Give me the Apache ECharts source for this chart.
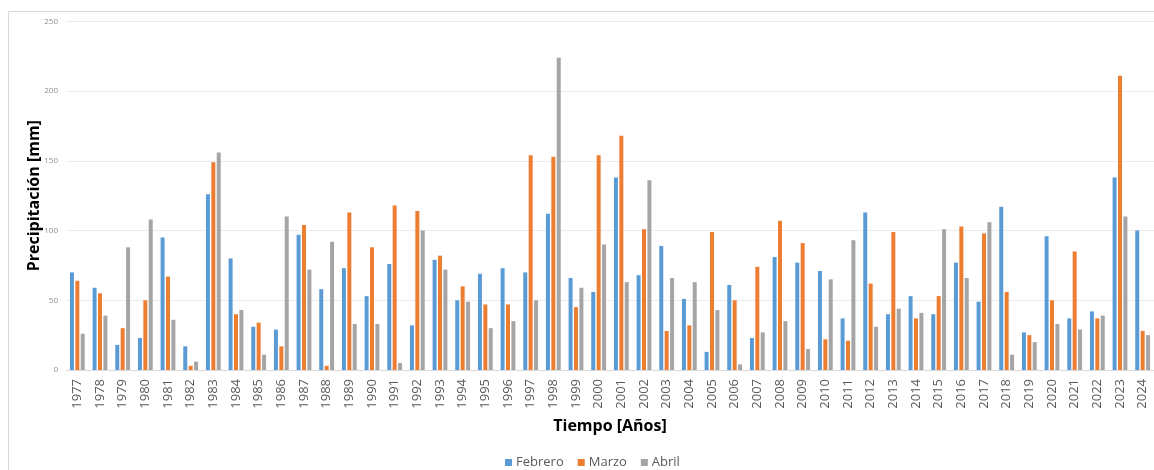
<!DOCTYPE html>
<html>
<head>
<meta charset="utf-8">
<script src="https://cdn.jsdelivr.net/npm/echarts@6/dist/echarts.min.js"></script>
<style>
html,body{margin:0;padding:0;background:#fff;}
#frame{position:absolute;left:8px;top:11px;width:1170px;height:500px;border:1px solid #d9d9d9;box-sizing:border-box;}
#chart{position:absolute;left:0;top:0;width:1154px;height:470px;}
</style>
</head>
<body>
<div id="frame"></div>
<div id="chart"></div>
<script>
const years = ['1977','1978','1979','1980','1981','1982','1983','1984','1985','1986','1987','1988','1989','1990','1991','1992','1993','1994','1995','1996','1997','1998','1999','2000','2001','2002','2003','2004','2005','2006','2007','2008','2009','2010','2011','2012','2013','2014','2015','2016','2017','2018','2019','2020','2021','2022','2023','2024'];
const febrero = [70,59,18,23,95,17,126,80,31,29,97,58,73,53,76,32,79,50,69,73,70,112,66,56,138,68,89,51,13,61,23,81,77,71,37,113,40,53,40,77,49,117,27,96,37,42,138,100];
const marzo = [64,55,30,50,67,3,149,40,34,17,104,3,113,88,118,114,82,60,47,47,154,153,45,154,168,101,28,32,99,50,74,107,91,22,21,62,99,37,53,103,98,56,25,50,85,37,211,28];
const abril = [26,39,88,108,36,6,156,43,11,110,72,92,33,33,5,100,72,49,30,35,50,224,59,90,63,136,66,63,43,4,27,35,15,65,93,31,44,41,101,66,106,11,20,33,29,39,110,25];
const yTicks = [0,50,100,150,200,250];

const chart = echarts.init(document.getElementById('chart'));
const font = '"Open Sans", Lato, sans-serif';
chart.setOption({
  animation:false,
  textStyle:{fontFamily:font},
  color:['#5B9BD5','#ED7D31','#A5A5A5'],
  grid:{left:66,top:21.4,width:1090,bottom:100,containLabel:false},
  legend:{
    data:['Febrero','Marzo','Abril'],
    left:500, top:451,
    itemWidth:7,itemHeight:7,itemGap:14,
    icon:'rect',
    textStyle:{fontSize:13,color:'#595959',fontFamily:font,padding:[0,0,0,-1]}
  },
  xAxis:{
    type:'category',
    data:years,
    name:'Tiempo [Años]',
    nameLocation:'middle',
    nameGap:48,
    nameMoveOverlap:false,
    nameTextStyle:{fontSize:16,fontWeight:'bold',color:'#000',fontFamily:font},
    axisLine:{lineStyle:{color:'#d9d9d9'}},
    axisTick:{show:false},
    axisLabel:{rotate:90,fontSize:13,color:'#595959',margin:9,interval:0,fontFamily:font}
  },
  yAxis:{
    type:'value',
    min:yTicks[0],max:yTicks[yTicks.length-1],interval:50,
    name:'Precipitación [mm]',
    nameLocation:'middle',
    nameGap:24,
    nameMoveOverlap:false,
    nameTextStyle:{fontSize:16,fontWeight:'bold',color:'#000',fontFamily:font},
    axisLine:{show:false},
    axisTick:{show:false},
    splitLine:{lineStyle:{color:'#ececec'}},
    axisLabel:{fontSize:8,color:'#8c8c8c',margin:8,fontFamily:font}
  },
  series:[
    {name:'Febrero',type:'bar',data:febrero,barWidth:4,barGap:'35%'},
    {name:'Marzo',type:'bar',data:marzo,barWidth:4,barGap:'35%'},
    {name:'Abril',type:'bar',data:abril,barWidth:4,barGap:'35%'}
  ]
});
</script>
</body>
</html>
